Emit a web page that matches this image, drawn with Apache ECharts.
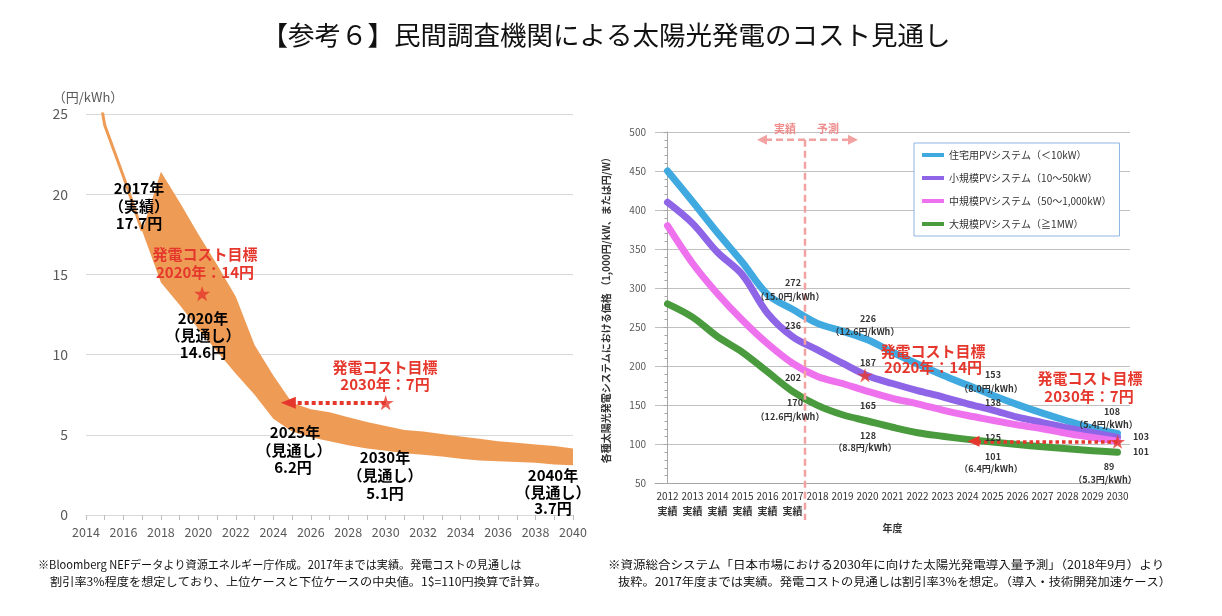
<!DOCTYPE html>
<html><head><meta charset="utf-8">
<script src="https://cdn.jsdelivr.net/npm/echarts@6/dist/echarts.min.js"></script>
<style>html,body{margin:0;padding:0;background:#fff}#c{width:1222px;height:616px}</style>
</head><body><div id="c"></div>
<script>
// ---------- Left chart data (円/kWh) ----------
const actualYears = [2014, 2015, 2016, 2017];
const actualCost = [31, 24.3, 21.1, 17.7];
const bandYears = [2017,2018,2019,2020,2021,2022,2023,2024,2025,2026,2027,2028,2029,2030,2031,2032,2033,2034,2035,2036,2037,2038,2039,2040];
const bandUpper = [17.7,21.4,19.5,17.5,15.6,13.6,10.6,8.7,7.0,6.6,6.4,6.1,5.8,5.55,5.3,5.2,5.05,4.9,4.75,4.6,4.5,4.4,4.3,4.15];
const bandLower = [17.7,14.5,13.1,11.6,10.2,8.8,7.5,6.0,5.2,4.85,4.6,4.35,4.15,4.0,3.85,3.75,3.65,3.5,3.4,3.35,3.3,3.25,3.15,3.1];
const leftTargets = [[2020.2, 13.8], [2030, 7]];
const leftArrowTip = [2024.4, 7];

// ---------- Right chart data (1,000円/kW) ----------
const rightYears = ['2012','2013','2014','2015','2016','2017','2018','2019','2020','2021','2022','2023','2024','2025','2026','2027','2028','2029','2030'];
const actualCount = 6;
const seriesNames = ['住宅用PVシステム（＜10kW）','小規模PVシステム（10～50kW）','中規模PVシステム（50～1,000kW）','大規模PVシステム（≧1MW）'];
const residential = [450,411,371,333,292,273,255,245,234,218,203,189,176,163,151,140,130,121,114];
const smallScale  = [410,383,346,317,268,238,221,204,188,178,169,161,152,144,135,128,121,115,109];
const mediumScale = [380,332,293,259,229,204,187,178,168,159,152,144,137,131,125,120,114,109,104];
const largeScale  = [280,263,238,218,193,168,150,138,130,122,115,110.5,106.5,103,100,97,94.5,92,90];
const rightTargets = [[7.9, 188.5], [18, 103.5]];   // x in category-index units
const rightArrowTip = [12, 104];

const RED = '#E5372C';
const ORANGE = '#EE9B56';
const LINE_COLORS = ['#40A9E0', '#8F65E8', '#EE72EE', '#4A9A3E'];
const FONT = "'Noto Sans CJK JP', 'Noto Sans', sans-serif";

function starPath() {
  let d = '';
  for (let i = 0; i < 10; i++) {
    const r = i % 2 ? 19.1 : 50;
    const a = -Math.PI / 2 + i * Math.PI / 5;
    d += (i ? 'L' : 'M') + (50 + r * Math.cos(a)).toFixed(2) + ',' + (50 + r * Math.sin(a)).toFixed(2) + ' ';
  }
  return 'path://' + d + 'Z';
}
const STAR = starPath();

const LG = {left: 86, top: 114, width: 487, height: 401};
const RG = {left: 655, top: 132, width: 475, height: 351.5};
const leftPxPerYear = LG.width / (2040 - 2014);
const rightPxPerIdx = RG.width / 19;
const LEFT_HEAD = [12, 15];
const RIGHT_HEAD = [11, 12];

const chart = echarts.init(document.getElementById('c'));

const rightLineSeries = [residential, smallScale, mediumScale, largeScale].map((d, i) => ({
  type: 'line', name: seriesNames[i], xAxisIndex: 1, yAxisIndex: 1,
  data: d, smooth: 0.35, symbol: 'none',
  lineStyle: {width: 7, color: LINE_COLORS[i], cap: 'round', join: 'round'},
  itemStyle: {color: LINE_COLORS[i]}, z: 3
}));

const option = {
  animation: false,
  textStyle: {fontFamily: FONT},
  grid: [LG, RG],
  legend: {
    data: seriesNames, orient: 'vertical', left: 914, top: 143,
    icon: 'rect', itemWidth: 22, itemHeight: 4, itemGap: 9,
    padding: [5, 8, 5, 8], borderColor: '#8DB4E2', borderWidth: 1,
    backgroundColor: '#fff',
    textStyle: {fontSize: 10, color: '#333', lineHeight: 14, fontFamily: FONT}
  },
  xAxis: [
    {gridIndex: 0, type: 'value', min: 2014, max: 2040, interval: 1,
     axisLine: {lineStyle: {color: '#D9D9D9'}},
     axisTick: {show: true, length: 5, lineStyle: {color: '#BFBFBF'}},
     splitLine: {show: false},
     axisLabel: {formatter: v => (v % 2 === 0 ? String(v) : ''), color: '#595959', fontSize: 12.5, margin: 11}},
    {gridIndex: 1, type: 'category', data: rightYears, boundaryGap: true,
     axisLine: {lineStyle: {color: '#A6A6A6'}},
     axisTick: {length: 4, lineStyle: {color: '#A6A6A6'}},
     axisLabel: {interval: 0, color: '#333', fontSize: 10, lineHeight: 15, margin: 5,
       formatter: (v, i) => (i < actualCount ? v + '\n{b|実績}' : v),
       rich: {b: {fontWeight: 'bold', fontSize: 10, color: '#333', lineHeight: 15}}},
     name: '年度', nameLocation: 'middle', nameGap: 37,
     nameTextStyle: {fontWeight: 'bold', fontSize: 10, color: '#333'}},
    {gridIndex: 1, type: 'value', min: -0.5, max: 18.5, show: false}
  ],
  yAxis: [
    {gridIndex: 0, type: 'value', min: 0, max: 25, interval: 5,
     axisLine: {show: false}, axisTick: {show: false},
     splitLine: {lineStyle: {color: '#D9D9D9'}},
     axisLabel: {color: '#595959', fontSize: 14, margin: 18}},
    {gridIndex: 1, type: 'value', min: 50, max: 500, interval: 50,
     axisLine: {show: true, lineStyle: {color: '#A6A6A6'}},
     axisTick: {show: true, length: 4, lineStyle: {color: '#A6A6A6'}},
     minorTick: {show: true, splitNumber: 5, length: 3, lineStyle: {color: '#A6A6A6'}},
     splitLine: {lineStyle: {color: '#C0C0C0'}},
     axisLabel: {fontSize: 10, color: '#595959', margin: 9},
     name: '各種太陽光発電システムにおける価格 （1,000円/kW、または円/W）',
     nameLocation: 'middle', nameRotate: 90, nameGap: 44,
     nameTextStyle: {fontSize: 10, fontWeight: 'bold', color: '#333'}}
  ],
  series: [
    {type: 'line', xAxisIndex: 0, yAxisIndex: 0, data: actualYears.map((y, i) => [y, actualCost[i]]),
     symbol: 'none', clip: true, lineStyle: {color: ORANGE, width: 3}, z: 3, silent: true},
    {type: 'custom', xAxisIndex: 0, yAxisIndex: 0, silent: true, z: 2,
     data: [[bandYears[0], bandLower[0]]],
     renderItem: (params, api) => {
       const pts = [];
       bandYears.forEach((y, i) => pts.push(api.coord([y, bandUpper[i]])));
       for (let i = bandYears.length - 1; i >= 0; i--) pts.push(api.coord([bandYears[i], bandLower[i]]));
       return {type: 'polygon', shape: {points: pts}, style: {fill: ORANGE}};
     }},
    {type: 'scatter', xAxisIndex: 0, yAxisIndex: 0, data: leftTargets, symbol: STAR, symbolKeepAspect: true,
     symbolSize: 16, itemStyle: {color: RED}, z: 6, silent: true,
     markLine: {silent: true, symbol: ['none', 'triangle'], symbolSize: LEFT_HEAD, label: {show: false},
       lineStyle: {color: RED, width: 4, type: [4, 3], cap: 'butt'},
       data: [[{coord: leftTargets[1]}, {coord: [leftArrowTip[0] + LEFT_HEAD[1] / 2 / leftPxPerYear, leftArrowTip[1]]}]]}},
    ...rightLineSeries,
    {type: 'scatter', xAxisIndex: 2, yAxisIndex: 1, data: rightTargets, symbol: STAR, symbolKeepAspect: true,
     symbolSize: 15, itemStyle: {color: RED}, z: 6, silent: true,
     markLine: {silent: true, symbol: ['none', 'triangle'], symbolSize: RIGHT_HEAD, label: {show: false},
       lineStyle: {color: RED, width: 3.5, type: [3.5, 3], cap: 'butt'},
       data: [[{coord: [rightTargets[1][0], rightArrowTip[1]]}, {coord: [rightArrowTip[0] + RIGHT_HEAD[1] / 2 / rightPxPerIdx, rightArrowTip[1]]}]]}}
  ]
};
chart.setOption(option);

// ---------- annotations ----------
const BLK = 'bold 15px ' + FONT;
const REDF = 'bold 15px ' + FONT;
const SMALL = 'bold 9px ' + FONT;
function T(text, x, y, font, fill, align, sx) {
  return {type: 'text', x: x, y: y, z: 100, silent: true, scaleX: sx || 1,
    style: {text: text, font: font, fill: fill, align: align || 'center', verticalAlign: 'middle'}};
}
const g = [];
g.push(T('【参考６】民間調査機関による太陽光発電のコスト見通し', 606, 35, '26.5px ' + FONT, '#111'));
g.push(T('（円/kWh）', 88, 97, '13px ' + FONT, '#595959'));
[['2017年', 139, 188], ['（実績）', 139, 206], ['17.7円', 139, 223],
 ['2020年', 203, 318], ['（見通し）', 203, 335], ['14.6円', 203, 352],
 ['2025年', 295, 432], ['（見通し）', 294, 450], ['6.2円', 293, 467],
 ['2030年', 385, 457], ['（見通し）', 385, 475], ['5.1円', 385, 493],
 ['2040年', 553, 475], ['（見通し）', 553, 492], ['3.7円', 553, 508]
].forEach(a => g.push(T(a[0], a[1], a[2], BLK, '#000')));
[['発電コスト目標', 205, 254], ['2020年：14円', 205, 272], ['発電コスト目標', 385, 367], ['2030年：7円', 385, 384],
 ['発電コスト目標', 933, 351], ['2020年：14円', 933, 367], ['発電コスト目標', 1090, 378], ['2030年：7円', 1089, 396]
].forEach(a => g.push(T(a[0], a[1], a[2], REDF, RED)));
[['272', 793, 283], ['（15.0円/kWh）', 790, 297], ['226', 868, 319], ['（12.6円/kWh）', 865, 332],
 ['236', 793, 326], ['187', 868, 363], ['202', 793, 378], ['170', 795, 403], ['（12.6円/kWh）', 790, 417],
 ['165', 868, 406], ['128', 868, 436], ['（8.8円/kWh）', 865, 448],
 ['153', 993, 375], ['（8.0円/kWh）', 991, 389], ['138', 993, 403], ['125', 993, 438],
 ['101', 993, 457], ['（6.4円/kWh）', 991, 469],
 ['108', 1112, 412], ['（5.4円/kWh）', 1106, 425], ['103', 1141, 437], ['101', 1141, 452],
 ['89', 1109, 467], ['（5.3円/kWh）', 1105, 480]
].forEach(a => g.push(T(a[0], a[1], a[2], SMALL, '#333')));
// notes
g.push(T('※Bloomberg NEFデータより資源エネルギー庁作成。2017年までは実績。発電コストの見通しは', 38, 565, '11.5px ' + FONT, '#111', 'left', 0.966));
g.push(T('割引率3%程度を想定しており、上位ケースと下位ケースの中央値。1$=110円換算で計算。', 50, 582, '11.5px ' + FONT, '#111', 'left', 1.06));
g.push(T('※資源総合システム「日本市場における2030年に向けた太陽光発電導入量予測」（2018年9月）より', 608, 565, '11.5px ' + FONT, '#111', 'left', 1.087));
g.push(T('抜粋。2017年度までは実績。発電コストの見通しは割引率3%を想定。（導入・技術開発加速ケース）', 618, 582, '11.5px ' + FONT, '#111', 'left', 1.064));

// actual / forecast divider on the right chart
const PINK = '#F3A2A2';
const divX = chart.convertToPixel({xAxisIndex: 2}, actualCount - 0.5);
const divTop = chart.convertToPixel({yAxisIndex: 1}, 490);
g.push({type: 'line', z: 50, silent: true, shape: {x1: divX, y1: divTop, x2: divX, y2: 520},
  style: {stroke: PINK, lineWidth: 2.5, lineDash: [7, 4]}});
g.push({type: 'line', z: 50, silent: true, shape: {x1: divX - 40, y1: divTop, x2: divX + 45, y2: divTop},
  style: {stroke: PINK, lineWidth: 2.5, lineDash: [7, 4]}});
g.push({type: 'polygon', z: 50, silent: true, shape: {points: [[divX - 48, divTop], [divX - 38, divTop - 5], [divX - 38, divTop + 5]]}, style: {fill: PINK}});
g.push({type: 'polygon', z: 50, silent: true, shape: {points: [[divX + 53, divTop], [divX + 43, divTop - 5], [divX + 43, divTop + 5]]}, style: {fill: PINK}});
g.push(T('実績', divX - 20, divTop - 11, 'bold 11px ' + FONT, '#EE8C8C'));
g.push(T('予測', divX + 23, divTop - 11, 'bold 11px ' + FONT, '#EE8C8C'));

chart.setOption({graphic: g});
</script></body></html>
